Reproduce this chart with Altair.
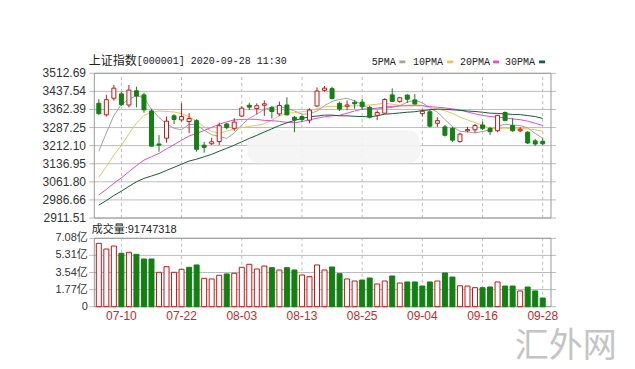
import altair as alt
import pandas as pd

# ---------------- data ----------------
dates = ["07-07","07-08","07-09","07-10","07-13","07-14","07-15","07-16","07-17","07-20",
         "07-21","07-22","07-23","07-24","07-27","07-28","07-29","07-30","07-31","08-03",
         "08-04","08-05","08-06","08-07","08-10","08-11","08-12","08-13","08-14","08-17",
         "08-18","08-19","08-20","08-21","08-24","08-25","08-26","08-27","08-28","08-31",
         "09-01","09-02","09-03","09-04","09-07","09-08","09-09","09-10","09-11","09-14",
         "09-15","09-16","09-17","09-18","09-21","09-22","09-23","09-24","09-25","09-28"]
opens  = [3388,3340,3409,3427,3381,3440,3423,3356,3219,3243,3336,3319,3312,3316,3214,3220,3229,3302,3284,3335,
          3380,3366,3380,3370,3344,3381,3330,3333,3318,3377,3442,3449,3388,3376,3392,3393,3371,3338,3347,3423,
          3396,3422,3402,3345,3353,3305,3290,3284,3229,3274,3278,3298,3284,3274,3350,3296,3274,3268,3232,3230]
highs  = [3405,3423,3464,3436,3464,3457,3432,3365,3256,3333,3343,3388,3347,3322,3228,3245,3308,3307,3326,3376,
          3390,3388,3400,3378,3395,3413,3336,3338,3367,3454,3460,3457,3395,3400,3402,3407,3378,3358,3409,3450,
          3415,3425,3426,3363,3363,3330,3298,3290,3266,3290,3302,3312,3291,3340,3354,3326,3290,3272,3240,3242]
lows   = [3340,3333,3399,3377,3371,3371,3349,3208,3187,3225,3302,3312,3264,3187,3183,3215,3215,3280,3274,3332,
          3360,3342,3336,3325,3335,3338,3268,3310,3305,3374,3436,3405,3356,3360,3365,3360,3325,3318,3344,3393,
          3390,3389,3384,3333,3288,3290,3250,3228,3225,3268,3265,3277,3256,3268,3315,3270,3268,3219,3211,3214]
closes = [3345,3403,3451,3383,3443,3418,3361,3210,3214,3314,3321,3333,3325,3197,3205,3228,3295,3287,3310,3368,
          3372,3378,3386,3354,3379,3340,3319,3321,3360,3439,3451,3408,3364,3381,3386,3374,3330,3350,3404,3396,
          3411,3405,3385,3355,3293,3316,3255,3235,3260,3279,3296,3284,3270,3338,3317,3274,3280,3223,3219,3220]
volumes = [6.56,5.97,6.28,5.53,5.63,5.42,4.94,4.94,3.56,4.14,3.56,3.87,4.08,4.32,2.94,2.87,3.25,3.39,3.46,4.08,
           4.39,3.90,4.21,4.04,3.80,4.04,3.80,3.28,3.11,4.32,3.80,4.11,3.42,2.87,2.66,2.76,2.97,2.35,2.66,3.18,
           2.45,2.56,2.56,2.14,2.56,2.66,3.49,3.07,2.17,2.14,1.97,1.97,2.04,2.56,2.14,2.14,1.63,2.04,1.63,0.90]
vol_dir = list("rrrgrggg" "rrrrggrr" "rgrrrrrg" "rggrrrrg" "grrggrrg" "rgggg" "rggrrrgg" "rggrgg" "g")

ma5 = [3189,3265,3337,3383,3405,3420,3411,3363,3329,3303,3284,3278,3301,3298,3276,3258,3250,3242,3265,3298,
       3326,3343,3363,3372,3374,3367,3356,3343,3344,3356,3378,3396,3404,3409,3398,3383,3367,3364,3369,3371,
       3378,3393,3400,3390,3370,3351,3321,3291,3272,3269,3265,3271,3278,3293,3301,3297,3296,3286,3263,3243]
ma10 = [3081,3125,3173,3213,3261,3305,3338,3350,3356,3354,3352,3345,3332,3314,3290,3271,3264,3272,3282,3287,
        3292,3296,3303,3318,3336,3347,3349,3353,3358,3365,3373,3376,3374,3376,3377,3380,3381,3384,3389,3384,
        3380,3380,3382,3380,3370,3364,3357,3346,3331,3319,3308,3296,3284,3283,3285,3281,3283,3282,3278,3272]
ma20 = [3007,3030,3056,3078,3104,3129,3152,3166,3180,3199,3216,3235,3252,3263,3275,3288,3301,3311,3319,3321,
        3322,3321,3317,3316,3313,3309,3307,3312,3320,3326,3332,3336,3338,3347,3356,3364,3365,3368,3373,3375,
        3377,3378,3378,3378,3374,3372,3369,3365,3360,3352,3344,3338,3333,3331,3328,3323,3320,3314,3305,3296]
ma30 = [2965,2984,3005,3023,3043,3062,3076,3086,3096,3109,3122,3135,3148,3156,3166,3176,3189,3201,3214,3228,
        3242,3255,3269,3282,3296,3307,3317,3325,3332,3335,3339,3339,3336,3336,3334,3333,3332,3336,3343,3345,
        3348,3351,3353,3358,3361,3364,3363,3361,3359,3356,3354,3351,3347,3346,3344,3342,3341,3337,3333,3325]

ma_names = ["5PMA", "10PMA", "20PMA", "30PMA"]
ma_colors = ["#a3a3a3", "#efc164", "#e04fd6", "#1c5a38"]

price_ticks = [2911.51, 2986.66, 3061.80, 3136.95, 3212.10, 3287.25, 3362.39, 3437.54, 3512.69]
vol_ticks = [0, 1.77, 3.54, 5.31, 7.08]
tick_labels = ["07-10", "07-22", "08-03", "08-13", "08-25", "09-04", "09-16", "09-28"]

header_name = "上证指数"
header_rest = "[000001] 2020-09-28 11:30"
vol_title = "成交量:91747318"
watermark = "汇外网"

# ---------------- build tables -------------
N = len(dates)
RED = "#cc1414"
GREEN = "#138013"
W, H = 466.7, 233.4
X_MIN, X_MAX = -0.6, 60.1
LABEL_FONT = "Liberation Sans, Noto Sans CJK SC"

df = pd.DataFrame({"i": range(N), "open": opens, "high": highs,
                   "low": lows, "close": closes, "vol": volumes, "vdir": vol_dir[:N]})
ma_df = pd.concat([pd.DataFrame({"i": range(N), "ma": nm, "v": vals})
                   for nm, vals in zip(ma_names, [ma5, ma10, ma20, ma30])], ignore_index=True)
tick_idx = [dates.index(t) for t in tick_labels]
ticks_df = pd.DataFrame({"i": tick_idx, "lab": tick_labels, "plo": price_ticks[0], "phi": price_ticks[-1],
                         "vlo": vol_ticks[0], "vhi": vol_ticks[-1]})
frame_df = pd.DataFrame({"x0": [X_MIN], "x1": [X_MAX], "plo": [price_ticks[0]], "phi": [price_ticks[-1]],
                         "vlo": [vol_ticks[0]], "vhi": [vol_ticks[-1]]})
ptick_df = pd.DataFrame({"pv": price_ticks, "lab": ["%.2f" % v for v in price_ticks]})
vtick_df = pd.DataFrame({"vv": vol_ticks, "lab": ["0" if v == 0 else "%.2f亿" % v for v in vol_ticks]})

XS = alt.Scale(domain=[X_MIN, X_MAX], nice=False, zero=False)
PS = alt.Scale(domain=[price_ticks[0], price_ticks[-1]], range=[144.7, 0], nice=False, zero=False)
VS = alt.Scale(domain=[vol_ticks[0], vol_ticks[-1]], range=[H, 165.0], nice=False, zero=True)

def xq(f):
    return alt.X(f, scale=XS, axis=None)
def yp(f):
    return alt.Y(f, scale=PS, axis=None)
def yv(f):
    return alt.Y(f, scale=VS, axis=None)

GRID = "#bcbcbc"
VGRID = "#bdbdbd"
FRAME = "#9a9a9a"
one = pd.DataFrame({"a": [0]})

# ---------------- price panel ----------------
hgrid_p = alt.Chart(ptick_df).mark_rule(stroke=GRID, strokeWidth=1, opacity=1).encode(y=yp("pv:Q"))
plabels = alt.Chart(ptick_df).mark_text(align="right", baseline="middle", fontSize=12, font=LABEL_FONT,
                                        color="#333333").encode(
    x=alt.value(-3.3), y=yp("pv:Q"), text="lab:N")
vgrid_p = alt.Chart(ticks_df).mark_rule(color=VGRID, strokeDash=[3, 3], strokeWidth=1).encode(
    x=xq("i:Q"), y=yp("plo:Q"), y2="phi:Q")
blob = alt.Chart(one).mark_rect(fill="#f4f4f4", opacity=0.9, cornerRadius=12).encode(
    x=alt.value(158.0), x2=alt.value(331.0), y=alt.value(57.0), y2=alt.value(90.0))
frame_p = alt.Chart(frame_df).mark_rect(fillOpacity=0, stroke=FRAME, strokeWidth=1).encode(
    x=xq("x0:Q"), x2="x1:Q", y=yp("plo:Q"), y2="phi:Q")
ma_lines = alt.Chart(ma_df).mark_line(strokeWidth=1).encode(
    x=xq("i:Q"), y=yp("v:Q"),
    color=alt.Color("ma:N", scale=alt.Scale(domain=ma_names, range=ma_colors), legend=None),
    detail="ma:N")
base = alt.Chart(df)
UP = "datum.close >= datum.open"
DN = "datum.close < datum.open"
wick_up = base.transform_filter(UP).mark_rule(color=RED, strokeWidth=1).encode(
    x=xq("i:Q"), y=yp("low:Q"), y2="high:Q")
wick_dn = base.transform_filter(DN).mark_rule(color=GREEN, strokeWidth=1).encode(
    x=xq("i:Q"), y=yp("low:Q"), y2="high:Q")
body_up = base.transform_filter(UP).mark_bar(size=4, fill="white", stroke=RED, strokeWidth=1).encode(
    x=xq("i:Q"), y=yp("open:Q"), y2="close:Q")
body_dn = base.transform_filter(DN).mark_bar(size=4, fill=GREEN, stroke=GREEN, strokeWidth=1).encode(
    x=xq("i:Q"), y=yp("open:Q"), y2="close:Q")
price = alt.layer(vgrid_p, hgrid_p, blob, frame_p, plabels, ma_lines, wick_up, wick_dn, body_up, body_dn)

# ---------------- volume panel ----------------
hgrid_v = alt.Chart(vtick_df).mark_rule(stroke=GRID, strokeWidth=1, opacity=1).encode(y=yv("vv:Q"))
vlabels = alt.Chart(vtick_df).mark_text(align="right", baseline="middle", fontSize=11, font=LABEL_FONT,
                                        color="#333333").encode(
    x=alt.value(-1.5), y=yv("vv:Q"), text="lab:N")
vgrid_v = alt.Chart(ticks_df).mark_rule(color=VGRID, strokeDash=[3, 3], strokeWidth=1).encode(
    x=xq("i:Q"), y=yv("vlo:Q"), y2="vhi:Q")
frame_v = alt.Chart(frame_df).mark_rect(fillOpacity=0, stroke=FRAME, strokeWidth=1).encode(
    x=xq("x0:Q"), x2="x1:Q", y=yv("vlo:Q"), y2="vhi:Q")
xlabels = alt.Chart(ticks_df).mark_text(baseline="middle", fontSize=12, font=LABEL_FONT,
                                        color="#c42a2a").encode(
    x=xq("i:Q"), y=alt.value(H + 9.5), text="lab:N")
vol_up = base.transform_filter("datum.vdir == 'r'").mark_bar(
    size=5, fill="white", stroke=RED, strokeWidth=1).encode(x=xq("i:Q"), y=yv("vol:Q"))
vol_dn = base.transform_filter("datum.vdir == 'g'").mark_bar(
    size=5, fill=GREEN, stroke=GREEN, strokeWidth=1).encode(x=xq("i:Q"), y=yv("vol:Q"))
vol = alt.layer(vgrid_v, hgrid_v, frame_v, vlabels, xlabels, vol_up, vol_dn)

# ---------------- texts ----------------
def txt(s, x, y, size, font, color, align="left", baseline="middle"):
    return alt.Chart(one).mark_text(text=s, fontSize=size, font=font, color=color, align=align,
                                    baseline=baseline).encode(x=alt.value(x), y=alt.value(y))

decor = [
    txt(header_name, -0.5, -12.3, 12, "Noto Sans CJK SC", "#222222"),
    txt(header_rest, 47.4, -12.3, 10, "Liberation Mono", "#222222"),
    txt(vol_title, 2.4, 157.0, 11, LABEL_FONT, "#222222"),
    txt(watermark, 476.5, 273.5, 34, "Noto Sans CJK SC", "#c4c4c4", align="center"),
]
leg_text_x = [282.4, 323.7, 370.7, 415.7]
leg_sw_x = [310.0, 357.8, 403.8, 449.8]
for nm, col, tx, sx in zip(ma_names, ma_colors, leg_text_x, leg_sw_x):
    decor.append(txt(nm, tx, -11.3, 10, "Liberation Mono", "#222222"))
    decor.append(alt.Chart(one).mark_rect(color=col).encode(
        x=alt.value(sx), x2=alt.value(sx + 6), y=alt.value(-12.8), y2=alt.value(-10.0)))

chart = alt.layer(price, vol, *decor).resolve_scale(y="independent").properties(
    width=W, height=H, background="white",
    autosize=alt.AutoSizeParams(type="none"),
    padding={"left": 89.3, "top": 73.3, "right": 79.0, "bottom": 62.3},
).configure_view(stroke=None)

chart.save("out.html", embed_options={"renderer": "svg", "actions": False})
